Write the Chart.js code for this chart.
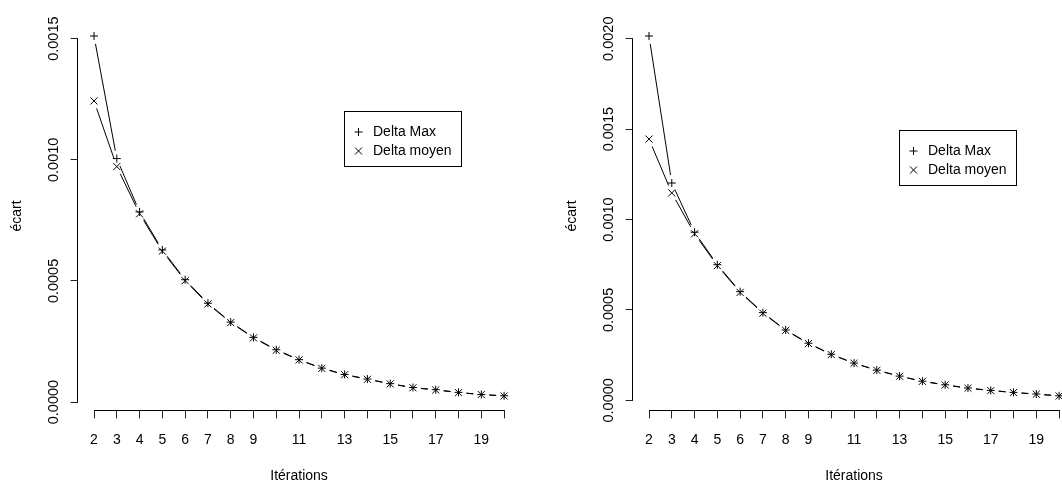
<!DOCTYPE html>
<html>
<head>
<meta charset="utf-8">
<script src="https://cdn.jsdelivr.net/npm/chart.js@4"></script>
<style>
  html, body { margin: 0; padding: 0; background: #fff; }
  body { width: 1062px; height: 482px; overflow: hidden; position: relative; }
  .panel { position: absolute; top: 0; width: 531px; height: 482px; }
</style>
</head>
<body>
<div class="panel" style="left:0px"><canvas id="chartLeft" width="531" height="482"></canvas></div>
<div class="panel" style="left:555px"><canvas id="chartRight" width="531" height="482"></canvas></div>
<script>
// iterations on the x axis
const iterations = [2, 3, 4, 5, 6, 7, 8, 9, 10, 11, 12, 13, 14, 15, 16, 17, 18, 19, 20];
const xTicks = [2, 3, 4, 5, 6, 7, 8, 9, 10, 11, 12, 13, 14, 15, 16, 17, 18, 19, 20];
const xTickLabels = ['2', '3', '4', '5', '6', '7', '8', '9', '', '11', '', '13', '', '15', '', '17', '', '19', ''];

// left plot
const deltaMaxLeft = [0.001511, 0.001005, 0.000785, 0.000628, 0.000505, 0.000408, 0.000330, 0.000267, 0.000216, 0.000175,
  0.000140, 0.000114, 0.000095, 0.000076, 0.000060, 0.000051, 0.000040, 0.000031, 0.000026];
const deltaMoyenLeft = [0.001243, 0.000972, 0.000777, 0.000623, 0.000501, 0.000405, 0.000328, 0.000265, 0.000214, 0.000174,
  0.000139, 0.000113, 0.000094, 0.000075, 0.000059, 0.000050, 0.000039, 0.000031, 0.000025];
const yTicksLeft = [0, 0.0005, 0.001, 0.0015];
const yTickLabelsLeft = ['0.0000', '0.0005', '0.0010', '0.0015'];

// right plot
const deltaMaxRight = [0.002015, 0.001202, 0.000930, 0.000750, 0.000601, 0.000485, 0.000389, 0.000316, 0.000255, 0.000206,
  0.000167, 0.000134, 0.000106, 0.000086, 0.000068, 0.000055, 0.000044, 0.000035, 0.000025];
const deltaMoyenRight = [0.001445, 0.001147, 0.000921, 0.000745, 0.000597, 0.000482, 0.000387, 0.000314, 0.000253, 0.000205,
  0.000166, 0.000133, 0.000105, 0.000085, 0.000067, 0.000054, 0.000043, 0.000034, 0.000024];
const yTicksRight = [0, 0.0005, 0.001, 0.0015, 0.002];
const yTickLabelsRight = ['0.0000', '0.0005', '0.0010', '0.0015', '0.0020'];

const seriesLabels = ['Delta Max', 'Delta moyen'];
const xTitle = 'Itérations';
const yTitle = 'écart';

const FONT = "'Liberation Sans', Arial, sans-serif";
const GAP = 8; // R type="b" leaves a gap round each point

function drawMarker(ctx, style, x, y) {
  ctx.beginPath();
  if (style === 'cross') {
    ctx.moveTo(x - 4, y); ctx.lineTo(x + 4, y);
    ctx.moveTo(x, y - 4); ctx.lineTo(x, y + 4);
  } else {
    ctx.moveTo(x - 3.5, y - 3.5); ctx.lineTo(x + 3.5, y + 3.5);
    ctx.moveTo(x - 3.5, y + 3.5); ctx.lineTo(x + 3.5, y - 3.5);
  }
  ctx.stroke();
}

// axes, labels, gapped lines and legend the way R draws them
const rStylePlugin = {
  id: 'rStyle',
  afterDatasetsDraw(chart, args, opts) {
    const ctx = chart.ctx;
    const area = chart.chartArea;
    const xs = chart.scales.x;
    const ys = chart.scales.y;
    ctx.save();
    ctx.strokeStyle = '#000';
    ctx.fillStyle = '#000';
    ctx.lineWidth = 1;

    // lines between the points, with gaps
    chart.data.datasets.forEach(function(ds, i) {
      const pts = chart.getDatasetMeta(i).data;
      for (let k = 0; k < pts.length - 1; k++) {
        const a = pts[k], b = pts[k + 1];
        const dx = b.x - a.x, dy = b.y - a.y;
        const len = Math.hypot(dx, dy);
        if (len <= 2 * GAP) continue;
        const ux = dx / len, uy = dy / len;
        ctx.beginPath();
        ctx.moveTo(a.x + ux * GAP, a.y + uy * GAP);
        ctx.lineTo(b.x - ux * GAP, b.y - uy * GAP);
        ctx.stroke();
      }
    });

    // axis lines only span the ticks
    const ax = Math.round(area.left - 0.5) + 0.5;
    ctx.beginPath();
    ctx.moveTo(ax, ys.getPixelForValue(opts.yTicks[0]));
    ctx.lineTo(ax, ys.getPixelForValue(opts.yTicks[opts.yTicks.length - 1]));
    ctx.stroke();
    const ay = Math.round(area.bottom - 0.5) + 0.5;
    ctx.beginPath();
    ctx.moveTo(xs.getPixelForValue(xTicks[0]), ay);
    ctx.lineTo(xs.getPixelForValue(xTicks[xTicks.length - 1]), ay);
    ctx.stroke();

    // y tick labels, parallel to the axis
    ctx.font = '14.5px ' + FONT;
    ctx.textAlign = 'center';
    ctx.textBaseline = 'alphabetic';
    opts.yTicks.forEach(function(v, i) {
      ctx.save();
      ctx.translate(area.left - 20, ys.getPixelForValue(v));
      ctx.rotate(-Math.PI / 2);
      ctx.fillText(opts.yTickLabels[i], 0, 0);
      ctx.restore();
    });

    // axis titles
    ctx.font = '14px ' + FONT;
    ctx.fillText(xTitle, (area.left + area.right) / 2, 480);
    ctx.save();
    ctx.translate(21, (area.top + area.bottom) / 2);
    ctx.rotate(-Math.PI / 2);
    ctx.fillText(yTitle, 0, 0);
    ctx.restore();

    // legend box
    const lx = 344.5, ly = opts.legendTop + 0.5;
    ctx.strokeRect(lx, ly, 117, 55);
    ctx.textAlign = 'left';
    ctx.textBaseline = 'middle';
    chart.data.datasets.forEach(function(ds, i) {
      const rowY = ly + 20.5 + i * 19;
      drawMarker(ctx, ds.pointStyle, lx + 14, rowY);
      ctx.fillText(ds.label, lx + 28.5, rowY);
    });
    ctx.restore();
  }
};

function createPanel(canvasId, maxValues, moyenValues, yTicks, yTickLabels, legendTop) {
  // R pads the data range by 4% on each side
  const all = maxValues.concat(moyenValues);
  const lo = Math.min(...all), hi = Math.max(...all);
  const yPad = (hi - lo) * 0.04;
  const xLo = iterations[0], xHi = iterations[iterations.length - 1];
  const xPad = (xHi - xLo) * 0.04;

  return new Chart(document.getElementById(canvasId), {
    type: 'scatter',
    data: {
      datasets: [{
        label: seriesLabels[0],
        data: iterations.map(function(x, i) { return { x: x, y: maxValues[i] }; }),
        pointStyle: 'cross',
        pointRadius: 4,
        pointBorderWidth: 1,
        pointBorderColor: '#000',
        pointBackgroundColor: '#000',
        showLine: false
      }, {
        label: seriesLabels[1],
        data: iterations.map(function(x, i) { return { x: x, y: moyenValues[i] }; }),
        pointStyle: 'crossRot',
        pointRadius: 5,
        pointBorderWidth: 1,
        pointBorderColor: '#000',
        pointBackgroundColor: '#000',
        showLine: false
      }]
    },
    options: {
      responsive: false,
      animation: false,
      devicePixelRatio: 1,
      events: [],
      layout: { padding: { top: 21.6, right: 10.5, left: 0, bottom: 0 } },
      plugins: {
        legend: { display: false },
        tooltip: { enabled: false },
        rStyle: { yTicks: yTicks, yTickLabels: yTickLabels, legendTop: legendTop }
      },
      scales: {
        x: {
          type: 'linear',
          min: xLo - xPad,
          max: xHi + xPad,
          afterBuildTicks: function(scale) { scale.ticks = xTicks.map(function(v) { return { value: v }; }); },
          afterFit: function(scale) { scale.height = 71.6; },
          border: { display: false },
          grid: { drawOnChartArea: false, drawTicks: true, tickLength: 8, tickColor: '#222', lineWidth: 1 },
          ticks: {
            autoSkip: false,
            maxRotation: 0,
            padding: 13,
            color: '#000',
            font: { family: FONT, size: 14 },
            callback: function(value) { return xTickLabels[xTicks.indexOf(value)]; }
          }
        },
        y: {
          type: 'linear',
          min: lo - yPad,
          max: hi + yPad,
          afterBuildTicks: function(scale) { scale.ticks = yTicks.map(function(v) { return { value: v }; }); },
          afterFit: function(scale) { scale.width = 77.6; },
          border: { display: false },
          grid: { drawOnChartArea: false, drawTicks: true, tickLength: 7, tickColor: '#222', lineWidth: 1 },
          ticks: { display: false }
        }
      }
    },
    plugins: [rStylePlugin]
  });
}

createPanel('chartLeft', deltaMaxLeft, deltaMoyenLeft, yTicksLeft, yTickLabelsLeft, 111);
createPanel('chartRight', deltaMaxRight, deltaMoyenRight, yTicksRight, yTickLabelsRight, 130);
</script>
</body>
</html>
